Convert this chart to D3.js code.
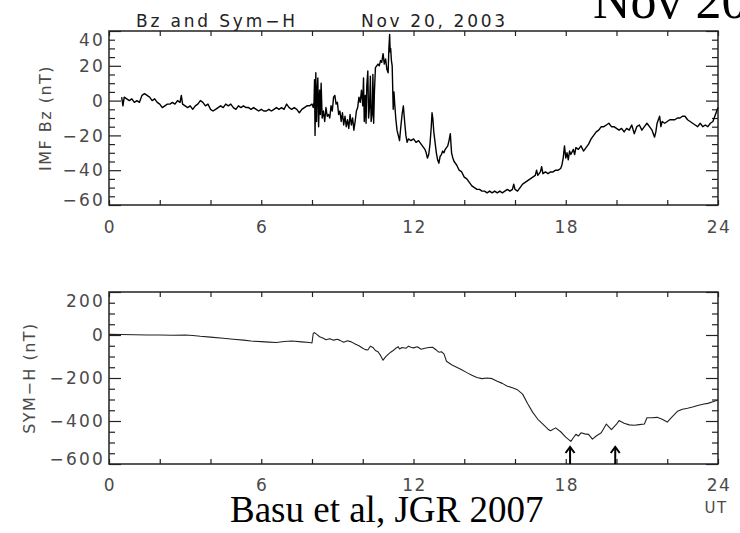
<!DOCTYPE html>
<html><head><meta charset="utf-8">
<script src="https://cdn.jsdelivr.net/npm/d3@7"></script>
<style>html,body{margin:0;padding:0;background:#fff;overflow:hidden}</style>
</head><body>
<svg id="c" width="740" height="533"></svg>
<script>
// ---- data (hours UT, nT) ----
const bzTimes = [0.50,0.55,0.60,0.70,0.80,0.90,1.00,1.10,1.20,1.30,1.40,1.50,1.60,1.70,1.80,1.90,2.00,2.10,2.20,2.30,2.40,2.50,2.60,2.70,2.80,2.85,2.90,3.00,3.10,3.20,3.30,3.40,3.50,3.60,3.70,3.80,3.90,4.00,4.10,4.20,4.30,4.40,4.50,4.60,4.70,4.80,4.90,5.00,5.10,5.20,5.30,5.40,5.50,5.60,5.70,5.80,5.90,6.00,6.10,6.20,6.30,6.40,6.50,6.60,6.70,6.80,6.90,7.00,7.10,7.20,7.30,7.40,7.50,7.60,7.70,7.80,7.90,8.00,8.05,
8.08,8.10,8.12,8.15,8.18,8.20,8.23,8.26,8.30,8.33,8.36,8.40,8.45,8.50,8.55,8.60,8.65,8.70,8.75,8.80,8.85,8.90,8.95,9.00,9.05,9.10,9.15,9.20,9.25,9.30,9.35,9.40,9.45,9.50,9.55,9.60,9.65,9.70,9.75,9.80,9.85,9.90,9.95,10.00,10.03,10.06,10.10,10.13,10.16,10.20,10.23,10.27,10.30,10.33,10.37,10.40,10.43,10.46,10.50,10.55,10.60,10.65,10.70,10.75,10.80,10.85,10.90,10.95,11.00,11.03,11.06,11.08,11.10,11.13,11.16,11.20,11.23,11.26,11.30,11.35,11.40,11.45,11.50,11.55,11.60,11.65,11.70,11.75,11.80,11.90,12.00,12.10,12.20,12.30,12.40,12.45,12.50,12.55,12.60,12.65,12.70,12.73,12.76,12.80,12.85,12.90,12.95,13.00,13.05,13.10,13.15,13.20,13.25,13.30,13.35,13.40,13.45,13.50,13.55,13.60,13.70,13.80,13.90,14.00,14.10,14.20,14.30,14.40,14.50,14.60,14.70,14.80,14.90,15.00,15.10,15.20,15.30,15.40,15.50,15.60,15.70,15.80,15.90,15.95,16.00,16.10,16.20,16.30,16.40,16.50,16.60,16.70,16.80,16.85,16.90,17.00,17.05,17.10,17.20,17.30,17.40,17.50,17.60,17.70,17.80,17.85,17.90,17.95,18.00,18.05,18.10,18.15,18.20,18.30,18.35,18.40,18.50,18.60,18.70,18.80,18.90,19.00,19.10,19.20,19.30,19.40,19.50,19.60,19.70,19.80,19.90,20.00,20.10,20.20,20.30,20.40,20.50,20.60,20.70,20.80,20.90,21.00,21.10,21.20,21.30,21.40,21.50,21.55,21.60,21.70,21.75,21.80,21.90,22.00,22.10,22.20,22.30,22.40,22.50,22.60,22.70,22.80,22.90,23.00,23.10,23.20,23.30,23.40,23.50,23.60,23.70,23.80,23.90,24.00];
const bzValues = [2,-3,2,1,0,1,-1,0,-1,3,4,3,2,0,1,-1,-2,-4,-3,-2,-2,-1,-2,0,-1,3,-2,-3,-4,-3,-5,-3,-2,0,-1,-3,-2,-5,-6,-5,-4,-3,-4,-2,-3,-2,-4,-5,-3,-4,-3,-4,-4,-5,-4,-5,-6,-5,-6,-6,-5,-6,-5,-4,-5,-4,-5,-2,-4,-5,-4,-5,-7,-5,-4,-3,-3,-2,-4,
-1,12,-20,16,-12,4,13,-15,6,-8,10,-10,-6,-12,-4,-9,-8,-10,-3,-6,2,3,-2,-1,-8,-6,-12,-7,-14,-9,-15,-11,-16,-8,-14,-10,-17,-12,-6,-4,2,-1,6,-3,13,-12,3,-13,9,17,-10,-3,14,-12,-8,15,-13,5,19,20,21,20,23,22,27,21,24,18,16,30,38,28,30,23,20,-5,5,-2,-10,-17,-20,-23,-15,-8,-3,-12,-20,-24,-22,-23,-22,-24,-23,-25,-27,-28,-30,-33,-31,-25,-15,-7,-10,-18,-24,-30,-34,-36,-32,-31,-29,-30,-28,-27,-26,-23,-19,-30,-33,-35,-37,-40,-41,-44,-45,-47,-49,-50,-51,-51,-52,-52,-53,-52,-53,-52,-53,-52,-53,-52,-51,-52,-51,-48,-51,-52,-50,-48,-47,-46,-45,-44,-43,-40,-43,-41,-38,-42,-41,-42,-41,-41,-40,-40,-39,-37,-33,-26,-33,-30,-34,-29,-31,-28,-31,-27,-28,-26,-29,-27,-25,-22,-20,-18,-17,-15,-15,-14,-13,-15,-15,-16,-17,-16,-18,-16,-17,-14,-19,-15,-14,-17,-15,-13,-15,-17,-21,-18,-13,-9,-15,-12,-13,-12,-11,-11,-11,-10,-10,-9,-9,-11,-12,-13,-14,-15,-13,-15,-14,-15,-13,-12,-8,-4];

const symTimes = [0,0.5,1.0,1.5,2.0,2.5,3.0,3.3,3.6,4.0,4.5,4.9,5.3,5.6,6.0,6.3,6.6,6.9,7.2,7.6,7.9,8.0,8.05,8.1,8.2,8.3,8.45,8.55,8.7,8.85,9.0,9.1,9.25,9.4,9.55,9.7,9.85,10.0,10.1,10.2,10.3,10.4,10.5,10.6,10.7,10.8,10.9,11.0,11.1,11.2,11.3,11.4,11.45,11.55,11.7,11.8,11.9,12.0,12.15,12.3,12.45,12.6,12.75,12.9,13.0,13.1,13.2,13.3,13.5,13.7,13.9,14.1,14.3,14.5,14.7,14.9,15.1,15.3,15.5,15.7,15.9,16.1,16.3,16.5,16.7,16.9,17.1,17.3,17.4,17.6,17.8,18.0,18.2,18.3,18.4,18.5,18.6,18.75,18.9,19.05,19.2,19.4,19.6,19.8,20.0,20.1,20.3,20.5,20.7,20.9,21.1,21.2,21.4,21.6,21.8,22.0,22.2,22.4,22.6,22.8,23.0,23.2,23.4,23.6,23.8,24.0];
const symValues = [3,2,1,0,0,-1,0,-2,-6,-10,-15,-20,-24,-28,-31,-33,-35,-30,-28,-32,-35,-37,8,11,2,-8,-15,-22,-17,-24,-20,-25,-34,-27,-32,-42,-50,-62,-68,-70,-52,-58,-72,-78,-95,-117,-102,-90,-80,-72,-62,-55,-65,-58,-62,-52,-57,-60,-55,-66,-62,-58,-57,-70,-80,-78,-88,-122,-138,-150,-162,-175,-187,-198,-203,-200,-203,-215,-225,-238,-245,-255,-275,-320,-360,-392,-415,-438,-445,-432,-450,-475,-495,-478,-462,-470,-455,-460,-462,-484,-470,-455,-414,-440,-415,-398,-410,-418,-420,-417,-414,-385,-385,-383,-392,-405,-380,-355,-345,-341,-335,-328,-322,-318,-310,-302];

const xMajorTicks = [0,2,4,6,8,10,12,14,16,18,20,22,24];
const xTickLabels = [0,6,12,18,24];
const bzMajorTicks = [-60,-40,-20,0,20,40];
const bzMinorTicks = [-55,-50,-45,-35,-30,-25,-15,-10,-5,5,10,15,25,30,35];
const symMajorTicks = [-600,-400,-200,0,200];
const symMinorTicks = [-550,-500,-450,-350,-300,-250,-150,-100,-50,50,100,150];
const arrowTimes = [18.17, 19.95];

// ---- layout ----
const svg = d3.select("#c");
const L = 109, R = 718;
const P1 = {top: 31, bottom: 205};
const P2 = {top: 292, bottom: 464};
const x = d3.scaleLinear().domain([0,24]).range([L,R]);
const y1 = d3.scaleLinear().domain([-60,40]).range([P1.bottom,P1.top]);
const y2 = d3.scaleLinear().domain([-600,200]).range([P2.bottom,P2.top]);

const tickFont = "DejaVu Sans, sans-serif";
const tickColor = "#4a4a4a";
const axisColor = "#222";

function fmt(v){ return v < 0 ? "\u2212" + Math.abs(v) : String(v); }

function panel(P, y, major, minor, yLabel, labelX, xLabelDy){
  const g = svg.append("g");
  const tk = (gen, tf) => { const a = g.append("g").attr("transform", tf).call(gen);
    a.select(".domain").remove();
    a.selectAll("line").attr("stroke", axisColor).attr("stroke-width", 1.2);
    a.selectAll("text").remove(); };
  tk(d3.axisLeft(y).tickValues(major).tickSize(-12).tickFormat(""), `translate(${L},0)`);
  tk(d3.axisLeft(y).tickValues(minor).tickSize(-6).tickFormat(""), `translate(${L},0)`);
  tk(d3.axisRight(y).tickValues(major).tickSize(-12).tickFormat(""), `translate(${R},0)`);
  tk(d3.axisRight(y).tickValues(minor).tickSize(-6).tickFormat(""), `translate(${R},0)`);
  tk(d3.axisBottom(x).tickValues(xMajorTicks).tickSize(-5).tickFormat(""), `translate(0,${P.bottom})`);
  tk(d3.axisTop(x).tickValues(xMajorTicks).tickSize(-5).tickFormat(""), `translate(0,${P.top})`);
  g.append("rect").attr("x", L).attr("y", P.top).attr("width", R-L).attr("height", P.bottom-P.top)
    .attr("fill","none").attr("stroke", axisColor).attr("stroke-width", 1.5);
  g.selectAll("text.yl").data(major).join("text").attr("class","yl")
    .attr("x", 105).attr("y", d => Math.max(P.top+9, Math.min(P.bottom-5, y(d))))
    .attr("dy","0.36em").attr("text-anchor","end")
    .attr("font-family", tickFont).attr("font-size", 17).attr("letter-spacing", 2.2)
    .attr("fill", tickColor).text(fmt);
  g.selectAll("text.xl").data(xTickLabels).join("text").attr("class","xl")
    .attr("x", d => x(d)+1).attr("y", P.bottom+xLabelDy).attr("text-anchor","middle")
    .attr("font-family", tickFont).attr("font-size", 17).attr("letter-spacing", 1.5)
    .attr("fill", tickColor).text(d => d);
  g.append("text").attr("transform", `translate(${labelX},${(P.top+P.bottom)/2}) rotate(-90)`)
    .attr("text-anchor","middle").attr("font-family", tickFont).attr("font-size", 16)
    .attr("letter-spacing", 1.5).attr("fill", tickColor).text(yLabel);
  return g;
}

panel(P1, y1, bzMajorTicks, bzMinorTicks, "IMF Bz (nT)", 51, 28);
panel(P2, y2, symMajorTicks, symMinorTicks, "SYM\u2212H (nT)", 35, 27);

// lines
const bzData = bzTimes.map((t,i)=>[t,bzValues[i]]);
const symData = symTimes.map((t,i)=>[t,symValues[i]]);
svg.append("path").datum(bzData)
  .attr("d", d3.line().x(d=>x(d[0])).y(d=>y1(d[1])))
  .attr("fill","none").attr("stroke","#000").attr("stroke-width",1.4).attr("stroke-linejoin","round");
svg.append("path").datum(symData)
  .attr("d", d3.line().x(d=>x(d[0])).y(d=>y2(d[1])))
  .attr("fill","none").attr("stroke","#222").attr("stroke-width",1.1).attr("stroke-linejoin","round");

// arrows
const ag = svg.append("g").attr("stroke","#000").attr("stroke-width",2).attr("fill","none");
arrowTimes.forEach(t => {
  const ax = x(t);
  ag.append("line").attr("x1",ax).attr("x2",ax).attr("y1",P2.bottom).attr("y2",P2.bottom-17);
  ag.append("path").attr("d",`M${ax-4.5},${P2.bottom-11}L${ax},${P2.bottom-17}L${ax+4.5},${P2.bottom-11}`);
});

// titles
svg.append("text").attr("x",136).attr("y",27).attr("font-family",tickFont).attr("font-size",17)
  .attr("textLength",159).attr("lengthAdjust","spacing").attr("fill","#222").text("Bz and Sym\u2212H");
svg.append("text").attr("x",361).attr("y",27).attr("font-family",tickFont).attr("font-size",17)
  .attr("textLength",144).attr("lengthAdjust","spacing").attr("fill","#222").text("Nov 20, 2003");
svg.append("text").attr("x",593).attr("y",18).attr("font-family","Liberation Serif, Times New Roman, serif")
  .attr("font-size",52).attr("fill","#000").text("Nov 20");
svg.append("text").attr("x",230).attr("y",522).attr("font-family","Liberation Serif, Times New Roman, serif")
  .attr("font-size",37).attr("fill","#000").text("Basu et al, JGR 2007");
svg.append("text").attr("x",716).attr("y",513).attr("text-anchor","middle").attr("font-family",tickFont)
  .attr("font-size",15).attr("letter-spacing",1.5).attr("fill",tickColor).text("UT");
</script>
</body></html>
